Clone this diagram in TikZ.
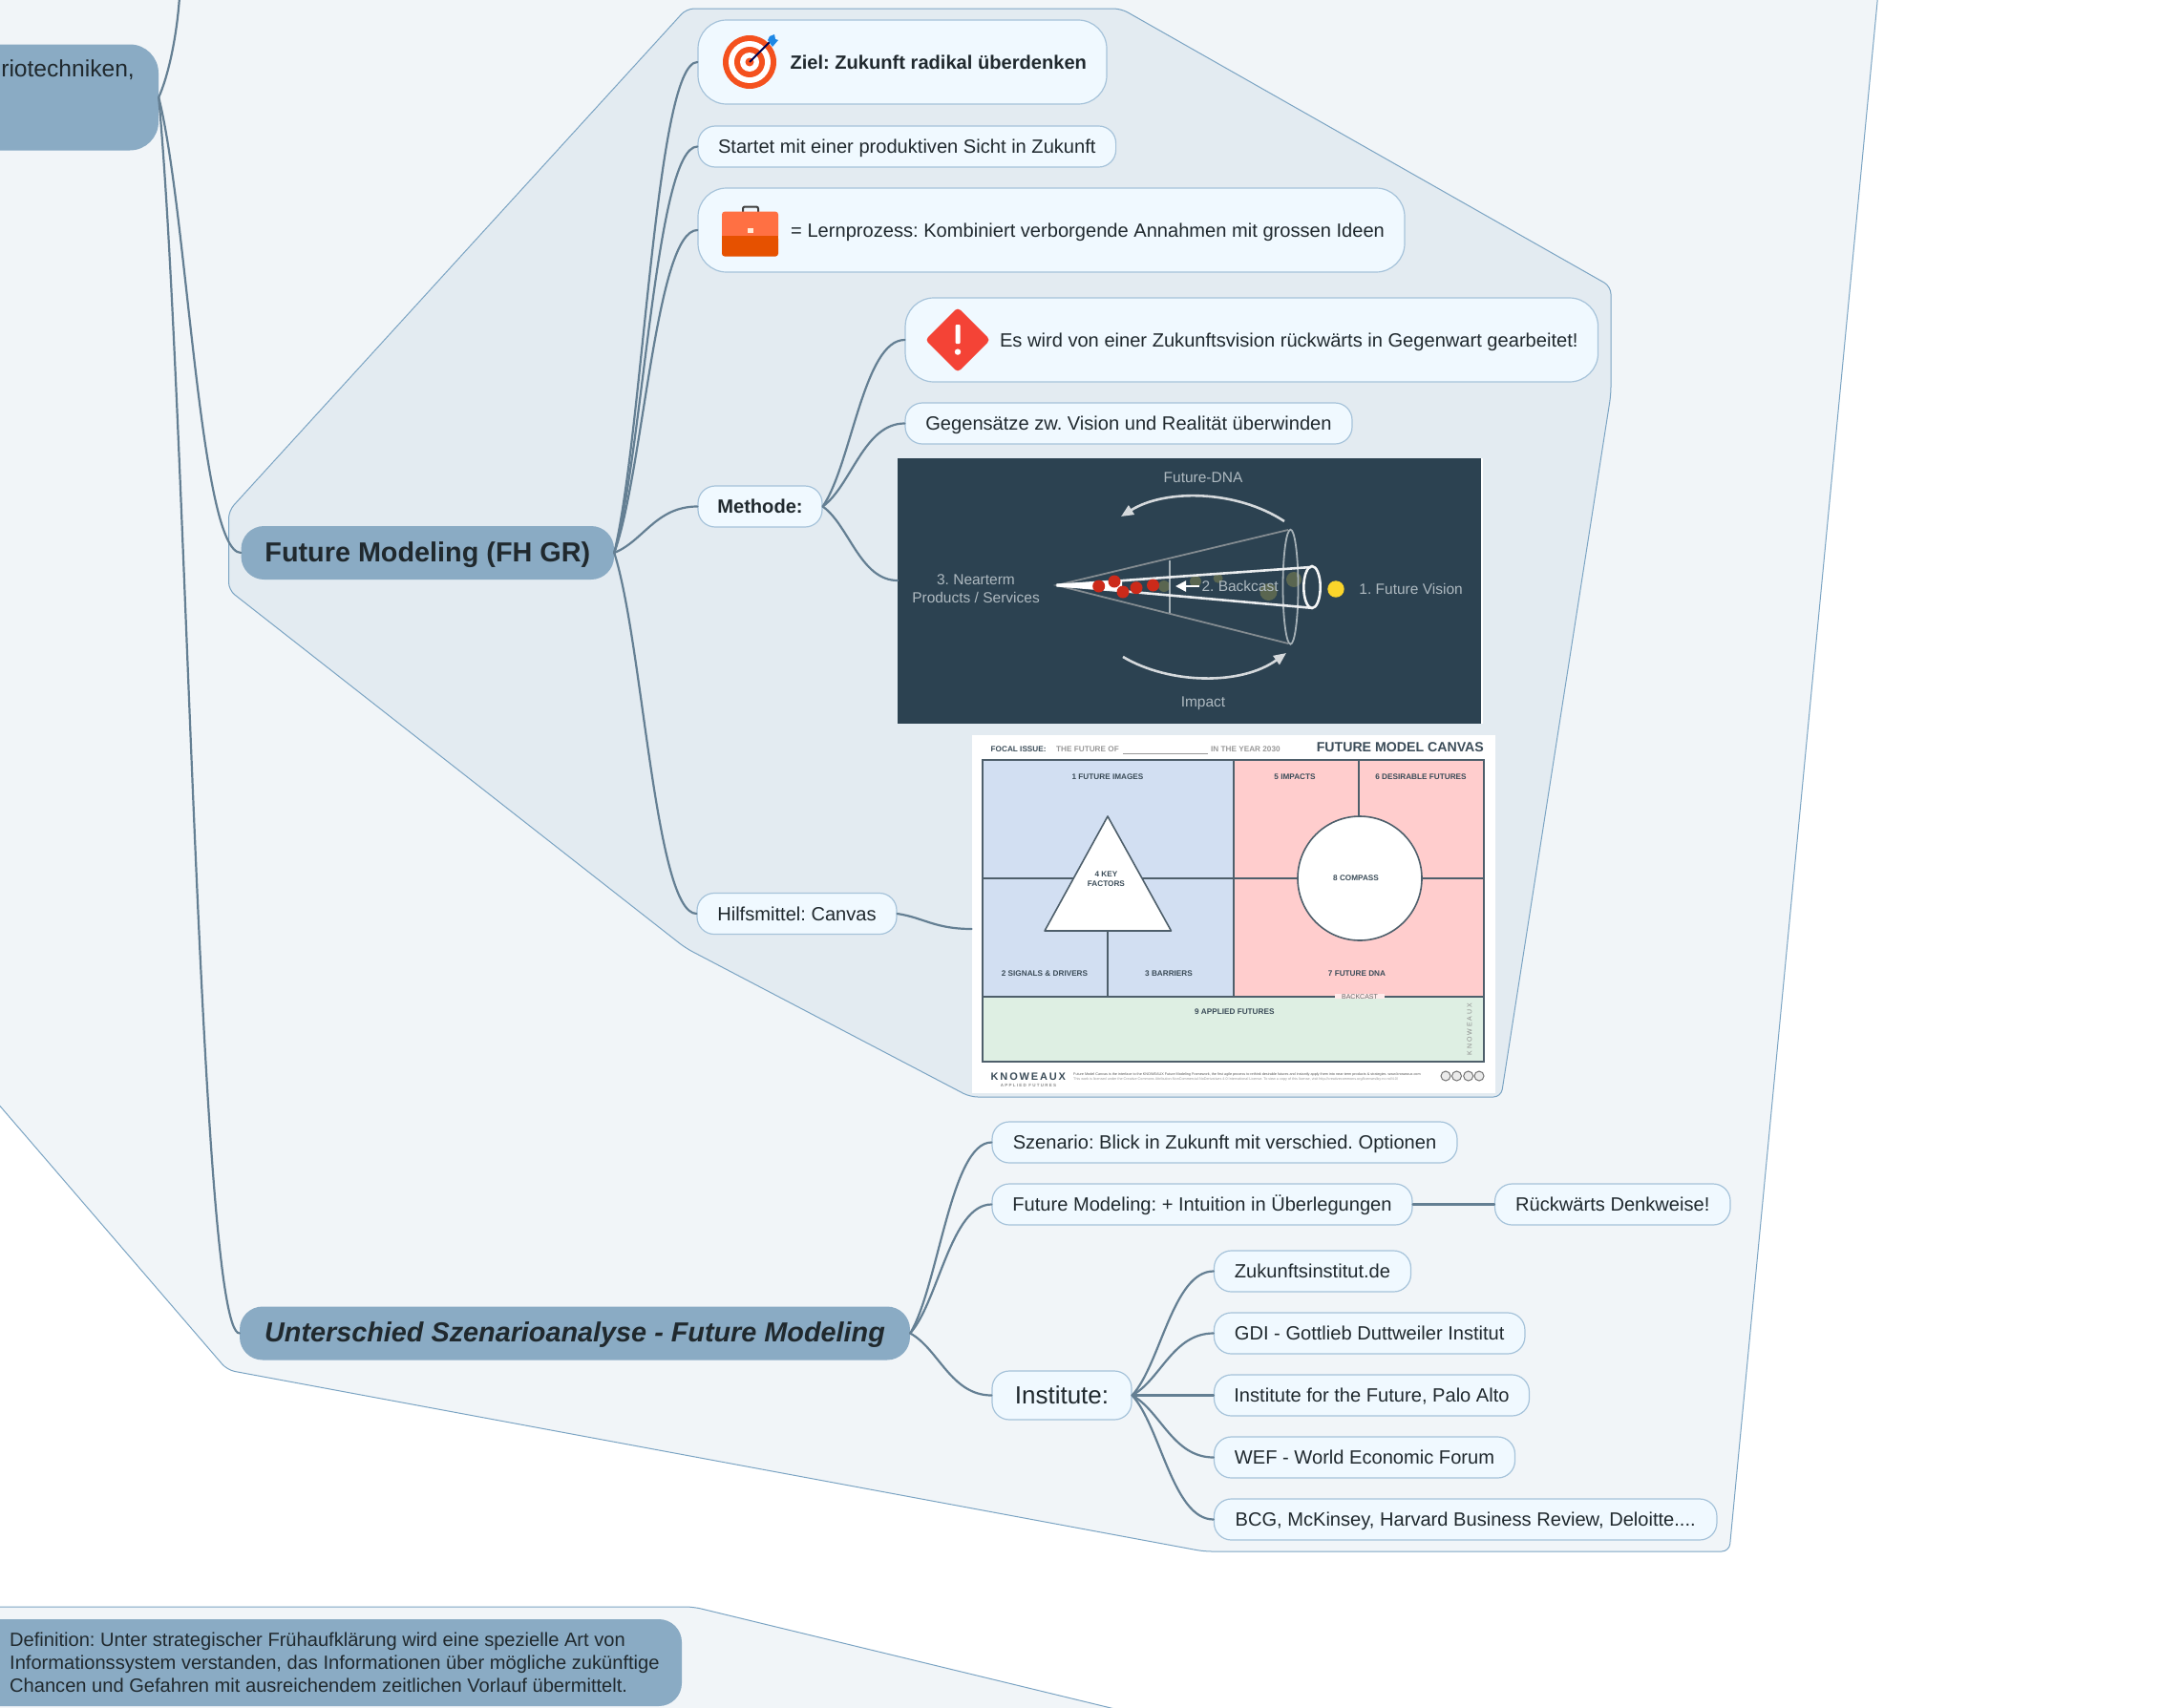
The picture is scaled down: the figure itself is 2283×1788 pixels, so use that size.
\documentclass[tikz,border=0pt]{standalone}
\usepackage{fontspec}
\setmainfont{Liberation Sans}
\usetikzlibrary{calc,arrows.meta}
\definecolor{txt}{HTML}{20292E}
\definecolor{hubfill}{HTML}{8AABC4}
\definecolor{leaffill}{HTML}{F0F9FF}
\definecolor{leafline}{HTML}{A6C3DA}
\definecolor{conncol}{HTML}{647F93}
\definecolor{regline}{HTML}{7BA4C3}
\definecolor{reglight}{HTML}{F1F5F8}
\definecolor{regdark}{HTML}{E3EBF1}
\definecolor{imgbg}{HTML}{2C4251}
\definecolor{imgtxt}{HTML}{AEB9C0}
\definecolor{cvline}{HTML}{4E5F6B}
\definecolor{cvtxt}{HTML}{3C4D59}
\definecolor{cvblue}{HTML}{D2DFF2}
\definecolor{cvpink}{HTML}{FFCDCD}
\definecolor{cvgreen}{HTML}{DEEFE3}
\definecolor{olive}{HTML}{5A6650}
\definecolor{dotred}{HTML}{CC2A1A}
\definecolor{dotyellow}{HTML}{FBD52B}
\definecolor{tgtred}{HTML}{F4511E}
\definecolor{warnred}{HTML}{F44336}
\definecolor{caseup}{HTML}{FF7043}
\definecolor{caselow}{HTML}{E65100}
\definecolor{dartblue}{HTML}{1E88E5}
\tikzset{
  x=1pt,y=-1pt,
  region/.style={draw=regline,line width=1pt,rounded corners=8pt},
  hub/.style={fill=hubfill,draw=none,inner xsep=0pt,inner ysep=0pt,text=txt,rounded corners=24pt,text height=21pt,text depth=2.5pt},
  leaf/.style={fill=leaffill,draw=leafline,line width=1.2pt,inner xsep=18pt,inner ysep=0pt,text=txt,
    rounded corners=18pt,minimum height=43pt,font=\fontsize{20.1}{24}\selectfont,text height=16pt,text depth=2pt},
  bigleaf/.style={leaf,rounded corners=30pt,minimum height=88pt,align=flush right},
  conn/.style={draw=conncol,line width=2.2pt,line cap=round},
  imglbl/.style={text=imgtxt,inner sep=0pt,font=\fontsize{15.5}{18}\selectfont},
  cvlbl/.style={text=cvtxt,inner sep=0pt,font=\fontsize{8.2}{10}\bfseries\selectfont,align=center},
  cvgray/.style={text=black!40,inner sep=0pt,font=\fontsize{8.2}{10}\bfseries\selectfont},
  cvrule/.style={draw=cvline,line width=1.6pt},
  ccicon/.style={draw=black!55,line width=1pt,fill=black!8,circle,inner sep=0pt,minimum size=10pt},
}
\newcommand{\curve}[2]{%
  \draw[conn] let \p1=(#1),\p2=(#2) in (\p1) .. controls ({\x1+.35*\x2-.35*\x1},{\y1+.25*\y2-.25*\y1}) and ({.5*\x1+.5*\x2},{\y2}) .. (\p2);}
\begin{document}
\frenchspacing
\begin{tikzpicture}
\useasboundingbox (0,0) rectangle (2283,1788);
\clip (0,0) rectangle (2283,1788);
% regions
\draw[region,fill=reglight] (-40,-40) -- (1970,-40) -- (1811,1625) -- (1261,1625) -- (238,1435) -- (-40,1112) -- cycle;
\draw[region,fill=regdark] (719,9) -- (1174,9) -- (1687,300) -- (1687,413) -- (1572,1149) -- (1016,1149) -- (718,993) -- (239.5,618) -- (239.5,535) -- cycle;
\draw[region,fill=reglight] (-40,1683) -- (726,1683) -- (1180,1793) -- (-40,1793) -- cycle;

% image 1
\node[fill=white,inner sep=0pt,minimum width=613pt,minimum height=278pt,anchor=north west] (img1w) at (940,480) {};
\node[fill=imgbg,inner sep=0pt,minimum width=611pt,minimum height=278pt,anchor=north west] (img1) at (940,480) {};
\coordinate (img1in) at (940,608);
\foreach \px/\py/\pr in {1355/607/8,1328.5/620/9,1252/609/6,1275.6/605.7/5,1219/614/6}
  \fill[olive] (\px,\py) circle[radius=\pr];
\draw[black!25!imgtxt,line width=1.8pt] (1349,555) -- (1106.5,613) -- (1349,674);
\draw[black!5!imgtxt,line width=1.8pt] (1351.5,614.7) ellipse[x radius=8,y radius=60];
\draw[black!5!imgtxt,line width=1.8pt] (1225,587) -- (1225,642);
\draw[white!90!imgbg,line width=2.6pt] (1373,594) -- (1106.5,613) -- (1373,636.7);
\draw[white!95!imgbg,line width=2.6pt] (1374,615) ellipse[x radius=8.7,y radius=22];
\fill[white] (1106.5,611.5) -- (1175,608) -- (1175,619) -- (1106.5,614.5) -- cycle;
\foreach \px/\py in {1150.7/614,1167/609,1176/620,1190/615.7,1207.5/613}
  \fill[dotred] (\px,\py) circle[radius=6.5];
\draw[white,line width=2.4pt,-{Triangle[length=11pt,width=11pt]}] (1256,614) -- (1231,614);
\fill[dotyellow] (1399,617) circle[radius=8.7];
\draw[white!80!imgbg,line width=2.6pt,-{Triangle[length=13pt,width=11pt]}] (1345,546) .. controls (1295,513) and (1220,512) .. (1174,541);
\draw[white!80!imgbg,line width=2.6pt,-{Triangle[length=13pt,width=11pt]}] (1176,688) .. controls (1225,717) and (1300,718) .. (1347,684);
\node[imglbl] (futdna) at (1260,500.7) {Future-DNA};
\node[imglbl] (near1) at (1022,607) {3. Nearterm};
\node[imglbl] (near2) at (1022,625.7) {Products / Services};
\node[imglbl] (fvis) at (1477.6,616.7) {1. Future Vision};
\node[imglbl] (back) at (1298.6,614) {2. Backcast};
\node[imglbl] (impact) at (1260,737) {Impact};

% image 2
\node[fill=white,inner sep=0pt,minimum width=548pt,minimum height=375pt,anchor=north west] (img2) at (1017.6,770) {};
\coordinate (img2in) at (1017.6,973);
\fill[cvblue] (1028.7,796) rectangle (1292,1043.7);
\fill[cvpink] (1292,796) rectangle (1554,1043.7);
\fill[cvgreen] (1028.7,1043.7) rectangle (1554,1112);
\draw[cvrule] (1028.7,920) -- (1554,920);
\draw[cvrule] (1292,796) -- (1292,1043.7);
\draw[cvrule] (1028.7,796) rectangle (1554,1112);
\draw[cvrule] (1423,796) -- (1423,856);
\draw[cvrule] (1160,975) -- (1160,1043.7);
\draw[cvrule,fill=white,line join=round] (1160,855) -- (1226.5,975) -- (1094,975) -- cycle;
\draw[cvrule,fill=white] (1424,920) circle[radius=65];
\draw[cvrule] (1028.7,1043.7) -- (1554,1043.7);
\fill[white!60!cvpink] (1398,1041) rectangle (1450,1046);
\node[cvlbl] (c1) at (1160,813.7) {1 FUTURE IMAGES};
\node[cvlbl] (c5) at (1356,813.7) {5 IMPACTS};
\node[cvlbl] (c6) at (1488,813.7) {6 DESIRABLE FUTURES};
\node[cvlbl] (c4) at (1158.4,920.7) {4 KEY\\[-0.5pt]FACTORS};
\node[cvlbl] (c8) at (1420,920) {8 COMPASS};
\node[cvlbl] (c2) at (1094,1019.7) {2 SIGNALS \& DRIVERS};
\node[cvlbl] (c3) at (1224,1019.7) {3 BARRIERS};
\node[cvlbl] (c7) at (1421,1019.7) {7 FUTURE DNA};
\node[inner sep=0pt,text=black!60,font=\fontsize{7}{8}\selectfont] (cb) at (1424,1043.7) {BACKCAST};
\node[cvlbl] (c9) at (1292.8,1060) {9 APPLIED FUTURES};
\node[inner sep=0pt,text=black!45,font=\fontsize{7}{8}\selectfont,rotate=90] (kv) at (1539,1078) {K N O W E A U X};
\node[cvlbl,anchor=west] (focal) at (1037.5,785) {FOCAL ISSUE:};
\node[cvgray,anchor=west] (thef) at (1106,785) {THE FUTURE OF};
\draw[black!40,line width=.7pt] (1176,789) -- (1265,789);
\node[cvgray,anchor=west] (iny) at (1268,785) {IN THE YEAR 2030};
\node[inner sep=0pt,anchor=east,text=cvtxt,font=\fontsize{14.15}{16}\bfseries\selectfont] (fmc) at (1554,782.7) {FUTURE MODEL CANVAS};
\node[inner sep=0pt,anchor=west,text=cvtxt,font=\fontsize{11}{14}\bfseries\selectfont] (kno) at (1037.5,1128) {K\,N\,O\,W\,E\,A\,U\,X};
\node[inner sep=0pt,text=black!45,font=\fontsize{4.5}{5}\bfseries\selectfont] (appf) at (1077,1136.5) {A P P L I E D\ \ F U T U R E S};
\node[inner sep=0pt,anchor=west,text=black!65,font=\fontsize{3.75}{4}\selectfont] (ft1) at (1124,1125.7) {Future Model Canvas is the interface to the KNOWEAUX Future Modeling Framework, the first agile process to rethink desirable futures and instantly apply them into near-term products \& strategies. www.knoweaux.com};
\node[inner sep=0pt,anchor=west,text=black!40,font=\fontsize{3.75}{4}\selectfont] (ft2) at (1124,1130.5) {This work is licensed under the Creative Commons Attribution-NonCommercial-NoDerivatives 4.0 International License. To view a copy of this license, visit http://creativecommons.org/licenses/by-nc-nd/4.0/};
\foreach \px [count=\i] in {1514,1525.5,1537.7,1549}
  \node[ccicon] (cc\i) at (\px,1127) {};

% hubs
\node[hub,minimum width=260pt,minimum height=111pt,rounded corners=30pt] (szen) at (36,102) {};
\node[inner sep=0pt,anchor=east,text=txt,font=\fontsize{24.6}{28}\selectfont] (szent) at (141,72.8) {riotechniken,};
\coordinate (topend) at (188,-3);
\node[hub,minimum width=390.5pt,minimum height=56pt,font=\fontsize{28.8}{32}\bfseries\selectfont] (fm) at (447.8,579) {Future Modeling (FH GR)};
\node[hub,minimum width=702pt,minimum height=56pt,font=\fontsize{28.8}{32}\bfseries\itshape\selectfont] (us) at (602,1396.5) {Unterschied Szenarioanalyse - Future Modeling};
\node[hub,minimum width=774pt,minimum height=91pt] (def) at (327,1741.5) {};
\node[inner sep=0pt,anchor=west,align=flush left,text=txt,font=\fontsize{20.1}{24}\selectfont] (deft) at (10,1741.5) {Definition: Unter strategischer Frühaufklärung wird eine spezielle Art von\\Informationssystem verstanden, das Informationen über mögliche zukünftige\\Chancen und Gefahren mit ausreichendem zeitlichen Vorlauf übermittelt.};

% leaves
\node[bigleaf,minimum width=428pt,text width=386pt,font=\fontsize{20.1}{24}\bfseries\selectfont] (ziel) at (945,65) {Ziel: Zukunft radikal überdenken};
\node[leaf,minimum width=437.6pt] (startet) at (949.8,153.5) {Startet mit einer produktiven Sicht in Zukunft};
\node[bigleaf,minimum width=740pt,text width=698pt] (lern) at (1101,241) {= Lernprozess: Kombiniert verborgende Annahmen mit grossen Ideen};
\node[leaf,minimum width=130pt,font=\fontsize{20.1}{24}\bfseries\selectfont] (meth) at (796,530.5) {Methode:};
\node[bigleaf,minimum width=725.5pt,text width=683.5pt] (warn) at (1310.8,356) {Es wird von einer Zukunftsvision rückwärts in Gegenwart gearbeitet!};
\node[leaf,minimum width=468pt] (gegen) at (1182,443.5) {Gegensätze zw. Vision und Realität überwinden};
\node[leaf,minimum width=209pt] (hilf) at (834.5,957) {Hilfsmittel: Canvas};
\node[leaf,minimum width=487pt] (szn) at (1282.5,1196.5) {Szenario: Blick in Zukunft mit verschied. Optionen};
\node[leaf,minimum width=440pt] (fm2) at (1259,1261.5) {Future Modeling: + Intuition in Überlegungen};
\node[leaf,minimum width=246.5pt] (rueck) at (1688.8,1261.5) {Rückwärts Denkweise!};
\node[leaf,minimum width=146pt,minimum height=51pt,font=\fontsize{26}{30}\selectfont,text height=18pt,text depth=0pt] (inst) at (1112,1461.5) {Institute:};
\node[leaf,minimum width=206pt] (zuk) at (1374.5,1331.5) {Zukunftsinstitut.de};
\node[leaf,minimum width=325.5pt] (gdi) at (1434.2,1396.5) {GDI - Gottlieb Duttweiler Institut};
\node[leaf,minimum width=330pt] (iff) at (1436.5,1461.5) {Institute for the Future, Palo Alto};
\node[leaf,minimum width=315pt] (wef) at (1429,1526.5) {WEF - World Economic Forum};
\node[leaf,minimum width=526.5pt] (bcg) at (1534.7,1591.5) {BCG, McKinsey, Harvard Business Review, Deloitte....};

% icons
\fill[tgtred] (785,65) circle[radius=28];
\fill[white] (785,65) circle[radius=22];
\fill[tgtred] (785,65) circle[radius=16];
\fill[white] (785,65) circle[radius=10];
\fill[tgtred] (785,65) circle[radius=4.5];
\draw[black!70!blue,line width=2pt] (785,65) -- (806,44);
\fill[dartblue] (804,42) -- (806,38) -- (811,36) -- (812,41) -- (815,42) -- (809,49) -- cycle;
\draw[black!75,line width=2pt,rounded corners=2pt] (778,222) -- (778,216.5) -- (794,216.5) -- (794,222);
\fill[caseup,rounded corners=3pt] (756,221.6) rectangle (815,250);
\fill[caselow,rounded corners=3pt] (756,247) rectangle (815,268.6);
\fill[caselow] (756,247) rectangle (815,255);
\fill[white!85!orange] (782.5,238.5) rectangle (788.5,243.5);
\fill[warnred,rounded corners=4pt] (1003,322) -- (1037,356) -- (1003,390) -- (969,356) -- cycle;
\fill[white,rounded corners=1pt] (1000.5,340) rectangle (1005.5,360);
\fill[white] (1003,368.6) circle[radius=3.2];

% connectors
\draw[conn] (szen.east) .. controls (176,80) and (185,40) .. (topend);
\curve{szen.east}{fm.west}
\curve{szen.east}{us.west}
\curve{fm.east}{ziel.west}
\curve{fm.east}{startet.west}
\curve{fm.east}{lern.west}
\curve{fm.east}{meth.west}
\curve{fm.east}{hilf.west}
\curve{meth.east}{warn.west}
\curve{meth.east}{gegen.west}
\curve{meth.east}{img1in}
\curve{hilf.east}{img2in}
\curve{us.east}{szn.west}
\curve{us.east}{fm2.west}
\curve{us.east}{inst.west}
\draw[conn] (fm2.east) -- (rueck.west);
\curve{inst.east}{zuk.west}
\curve{inst.east}{gdi.west}
\draw[conn] (inst.east) -- (iff.west);
\curve{inst.east}{wef.west}
\curve{inst.east}{bcg.west}
\end{tikzpicture}
\end{document}
